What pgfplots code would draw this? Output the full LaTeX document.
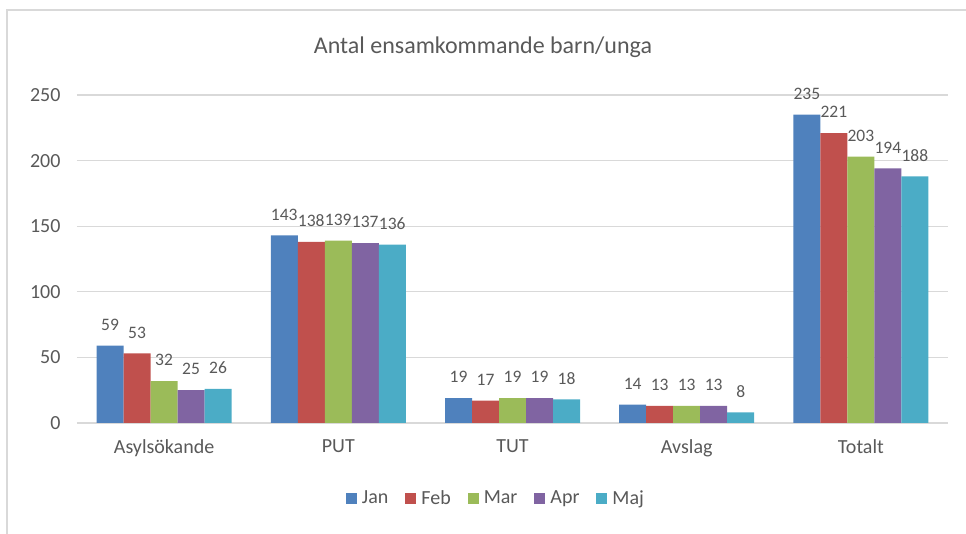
\documentclass[border=0pt]{standalone}
\usepackage{fontspec}
\setmainfont{Carlito}
\usepackage{pgfplots}
\pgfplotsset{compat=1.18}
\definecolor{cJan}{HTML}{4F81BD}
\definecolor{cFeb}{HTML}{C0504D}
\definecolor{cMar}{HTML}{9BBB59}
\definecolor{cApr}{HTML}{8064A2}
\definecolor{cMaj}{HTML}{4BACC6}
\definecolor{txt}{HTML}{595959}
\definecolor{gridc}{HTML}{D9D9D9}
\begin{document}
\begin{tikzpicture}[x=1pt,y=1pt]
\useasboundingbox (0,0) rectangle (966,534);
\draw[gridc, line width=1.8pt] (7,-5) -- (7,524) -- (975,524);
\node[text=txt, font=\fontsize{24}{28}\selectfont] at (483,487) {Antal ensamkommande barn/unga};
\begin{axis}[
  at={(77pt,111pt)}, anchor=south west,
  width=871pt, height=328pt, scale only axis,
  xmin=-0.5, xmax=4.5, ymin=0, ymax=250,
  ybar=0pt, bar width=27pt,
  xtick={0,...,4}, xticklabels={Asylsökande,PUT,TUT,Avslag,Totalt},
  ytick={0,50,...,250},
  /pgf/number format/assume math mode=true,
  ymajorgrids, grid style={gridc, line width=1.2pt},
  axis line style={draw=none}, major tick length=0pt,
  tick label style={text=txt, font=\fontsize{20}{24}\selectfont},
  yticklabel style={xshift=-13pt},
  xticklabel style={yshift=-13pt},
  clip=false,
  nodes near coords,
  nodes near coords style={text=txt, font=\fontsize{17.5}{20}\selectfont, anchor=south, inner sep=0pt, yshift=15pt},
  legend columns=5,
  legend style={draw=none, at={(0.481,-0.2287)}, anchor=center,
    font=\fontsize{20}{24}\selectfont, text=txt,
    /tikz/every even column/.append style={column sep=15pt},
    /tikz/every odd column/.append style={column sep=3pt},
    nodes={inner sep=2pt}},
  legend image code/.code={\fill[#1] (0pt,-5.5pt) rectangle (11pt,5.5pt);},
  every axis plot/.append style={draw=none},
]
\addplot[fill=cJan] coordinates {(0,59) (1,143) (2,19) (3,14) (4,235)};
\addplot[fill=cFeb] coordinates {(0,53) (1,138) (2,17) (3,13) (4,221)};
\addplot[fill=cMar] coordinates {(0,32) (1,139) (2,19) (3,13) (4,203)};
\addplot[fill=cApr] coordinates {(0,25) (1,137) (2,19) (3,13) (4,194)};
\addplot[fill=cMaj] coordinates {(0,26) (1,136) (2,18) (3,8) (4,188)};
\legend{Jan,Feb,Mar,Apr,Maj}
\end{axis}
\end{tikzpicture}
\end{document}
